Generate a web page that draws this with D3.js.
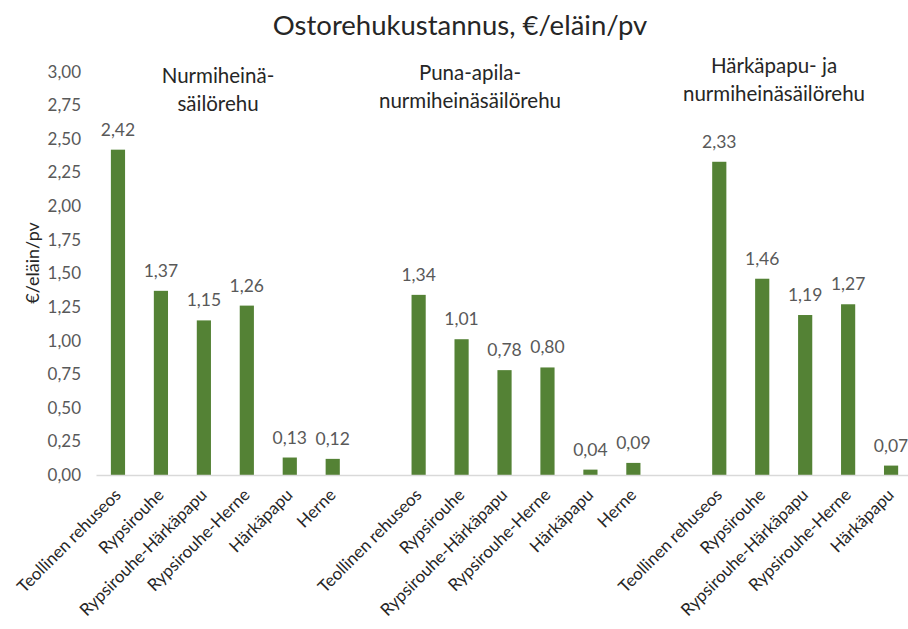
<!DOCTYPE html>
<html>
<head>
<meta charset="utf-8">
<script src="https://cdn.jsdelivr.net/npm/d3@7"></script>
<style>
  html, body { margin: 0; padding: 0; background: #fff; }
  svg { display: block; font-family: Lato, "Noto Sans", sans-serif; }
</style>
</head>
<body>
<svg id="chart" width="908" height="629"></svg>
<script>
// Purchased feed cost per animal per day, three silage bases
const groups = ["Nurmiheinä-\nsäilörehu", "Puna-apila-\nnurmiheinäsäilörehu", "Härkäpapu- ja\nnurmiheinäsäilörehu"];
const group1Feeds = ["Teollinen rehuseos", "Rypsirouhe", "Rypsirouhe-Härkäpapu", "Rypsirouhe-Herne", "Härkäpapu", "Herne"];
const group1Values = [2.42, 1.37, 1.15, 1.26, 0.13, 0.12];
const group2Feeds = ["Teollinen rehuseos", "Rypsirouhe", "Rypsirouhe-Härkäpapu", "Rypsirouhe-Herne", "Härkäpapu", "Herne"];
const group2Values = [1.34, 1.01, 0.78, 0.80, 0.04, 0.09];
const group3Feeds = ["Teollinen rehuseos", "Rypsirouhe", "Rypsirouhe-Härkäpapu", "Rypsirouhe-Herne", "Härkäpapu"];
const group3Values = [2.33, 1.46, 1.19, 1.27, 0.07];
const yTicks = [0, 0.25, 0.5, 0.75, 1, 1.25, 1.5, 1.75, 2, 2.25, 2.5, 2.75, 3];
const title = "Ostorehukustannus, €/eläin/pv";
const yTitle = "€/eläin/pv";

// Build slot list: groups separated by one empty slot
const slots = [];
const rows = [];
[[group1Feeds, group1Values], [group2Feeds, group2Values], [group3Feeds, group3Values]].forEach(([feeds, vals], gi) => {
  if (gi > 0) slots.push("gap" + gi);
  feeds.forEach((f, i) => {
    const key = "g" + gi + "-" + i;
    slots.push(key);
    rows.push({ key, label: f, value: vals[i], group: gi });
  });
});

const svg = d3.select("#chart");
const left = 96.5, step = 42.95;
const x = d3.scaleBand().domain(slots).range([left, left + step * slots.length]).paddingInner(0.67).paddingOuter(0.335);
const y = d3.scaleLinear().domain([0, 3]).range([475, 71.7]);
const fmt = v => d3.format(".2f")(v).replace(".", ",");

// Title
svg.append("text").attr("x", 460).attr("y", 35).attr("text-anchor", "middle")
  .attr("font-size", 27.5).attr("fill", "#262626").text(title);

// Y axis labels
const yAxis = d3.axisLeft(y).tickValues(yTicks).tickFormat(fmt).tickSize(0).tickPadding(0);
const gy = svg.append("g").attr("transform", "translate(81,0)").call(yAxis);
gy.select(".domain").remove();
gy.selectAll("text").attr("font-size", 17).attr("fill", "#595959").attr("font-family", "Lato, 'Noto Sans', sans-serif");

svg.append("text").attr("transform", "translate(39,263) rotate(-90)").attr("text-anchor", "middle")
  .attr("font-size", 18).attr("fill", "#262626").text(yTitle);

// Bars
svg.append("g").selectAll("rect").data(rows).join("rect")
  .attr("x", d => x(d.key)).attr("width", x.bandwidth())
  .attr("y", d => y(d.value)).attr("height", d => y(0) - y(d.value))
  .attr("fill", "#548235");

// Baseline
svg.append("line").attr("x1", left).attr("x2", 908).attr("y1", y(0) + 0.5).attr("y2", y(0) + 0.5)
  .attr("stroke", "#d9d9d9").attr("stroke-width", 1.5);

// Value labels
svg.append("g").selectAll("text").data(rows).join("text")
  .attr("x", d => x(d.key) + x.bandwidth() / 2).attr("y", d => y(d.value) - 14)
  .attr("text-anchor", "middle").attr("font-size", 17.5).attr("fill", "#595959")
  .text(d => fmt(d.value));

// Category labels, rotated
const xAxis = d3.axisBottom(x).tickValues(rows.map(d => d.key))
  .tickFormat(k => rows.find(r => r.key === k).label).tickSize(0).tickPadding(0);
const gx = svg.append("g").attr("transform", `translate(0,${y(0)})`).call(xAxis);
gx.select(".domain").remove();
gx.selectAll("text").attr("font-size", 17).attr("fill", "#262626")
  .attr("font-family", "Lato, 'Noto Sans', sans-serif")
  .attr("text-anchor", "end").attr("dy", null)
  .attr("transform", "translate(4,21) rotate(-45)");

// Group titles inside plot
const groupPos = [{ x: 218, y: 83 }, { x: 470, y: 80 }, { x: 774, y: 73 }];
groups.forEach((g, i) => {
  const t = svg.append("text").attr("text-anchor", "middle").attr("font-size", 20.5).attr("fill", "#262626");
  g.split("\n").forEach((line, j) => {
    t.append("tspan").attr("x", groupPos[i].x).attr("y", groupPos[i].y + j * 28).text(line);
  });
});
</script>
</body>
</html>
